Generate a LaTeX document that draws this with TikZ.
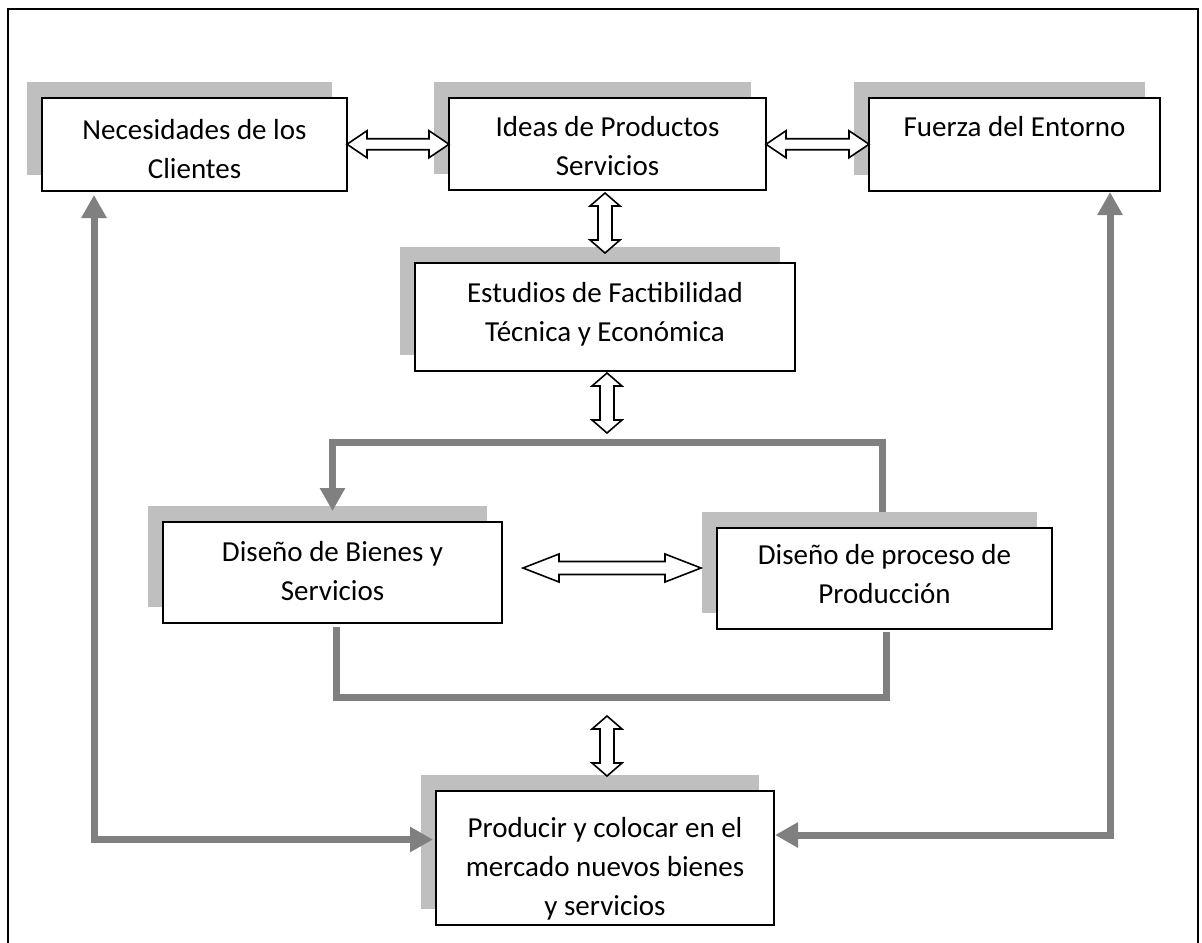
\documentclass[tikz,border=0pt]{standalone}
\usepackage{fontspec}
\setmainfont{Carlito}
\usetikzlibrary{positioning,calc,shadows,arrows.meta}
\definecolor{sombra}{RGB}{191,191,191}
\definecolor{flecha}{RGB}{128,128,128}

\begin{document}
\begin{tikzpicture}[x=.5pt, y=-.5pt,
    caja/.style={draw, fill=white, line width=.9pt, inner sep=0pt, outer sep=0pt,
      general shadow={fill=sombra, shadow xshift=-7.5pt, shadow yshift=8pt}},
    texto/.style={inner sep=0pt, align=center, font=\fontsize{14.5}{19.5}\selectfont},
    % flecha doble hueca: media longitud, medio cuerpo, media punta, largo de punta
    pics/doble/.style n args={4}{code={
      \draw[line width=.8pt, fill=white, line join=miter]
        (-#1,0) -- ++(#4,-#3) -- ++(0,{#3-#2}) -- ({#1-#4},-#2) -- ++(0,{#2-#3})
        -- (#1,0) -- ({#1-#4},#3) -- ++(0,{#2-#3}) -- ({-#1+#4},#2) -- ++(0,{#3-#2}) -- cycle;
    }},
    gris/.style={draw=flecha, line width=3.5pt, >={Triangle[length=11.5pt, width=12pt]}}]
            \useasboundingbox (0,0) rectangle (1202,942);

            % cajas
            \node[caja, minimum width=152.5pt, minimum height=46.5pt] (clientes) at (194.5,144.5) {};
            \node[caja, minimum width=158.5pt, minimum height=46pt] (ideas) at (607.5,144) {};
            \node[caja, minimum width=145.5pt, minimum height=46.5pt] (entorno) at (1014.5,144.5) {};
            \node[caja, minimum width=190pt, minimum height=54pt] (estudios) at (605,317) {};
            \node[caja, minimum width=169.5pt, minimum height=50.5pt] (bienes) at (332.5,572.5) {};
            \node[caja, minimum width=167.5pt, minimum height=50.5pt] (proceso) at (884.5,578.5) {};
            \node[caja, minimum width=169pt, minimum height=67pt] (producir) at (605,858) {};

            \node[texto, below=10.5pt of clientes.north] (tclientes) {Necesidades de los\\Clientes};
            \node[texto, below=9pt of ideas.north] (tideas) {Ideas de Productos\\Servicios};
            \node[texto, below=9pt of entorno.north] (tentorno) {Fuerza del Entorno};
            \node[texto, below=9.5pt of estudios.north] (testudios) {Estudios de Factibilidad\\T\'ecnica y Econ\'omica};
            \node[texto, below=9.5pt of bienes.north] (tbienes) {Dise\~no de Bienes y\\Servicios};
            \node[texto, below=8pt of proceso.north] (tproceso) {Dise\~no de proceso de\\Producci\'on};
            \node[texto, below=13pt of producir.north] (tproducir) {Producir y colocar en el\\mercado nuevos bienes\\y servicios};

            % flechas dobles
            \pic at ($(clientes.east)!.5!(ideas.west)$) {doble={51}{5.5}{13.5}{20}};
            \pic at ($(ideas.east)!.5!(entorno.west)$) {doble={51.5}{5.5}{13.5}{20}};
            \pic[rotate=90] at (605,223) {doble={30}{7}{15}{13}};
            \pic[rotate=90] at (607,403) {doble={30}{7}{15}{13}};
            \pic[rotate=90] at (607,746) {doble={30}{7}{15}{13}};
            \pic at (612,568) {doble={89}{6.5}{14}{36}};

            % lineas grises
            \draw[gris, ->] ([shift={(-2.5,-16)}]proceso.north) -- ++(0,-70) -| ([yshift=5.5pt]bienes.north);
            \draw[gris] ([shift={(3.5,4)}]bienes.south) |- ([shift={(1.5,68)}]proceso.south)
                -- ([shift={(1.5,3)}]proceso.south);
            \draw[gris, <->] ([shift={(-100.5,4)}]clientes.south) |- ([shift={(-3,-18.5)}]producir.west);
            \draw[gris, <->] ([shift={(95.5,1)}]entorno.south) |- ([shift={(1,-23)}]producir.east);

            % marco
            \draw[line width=.9pt] (8,960) -- (8,9) -- (1198,9) -- (1198,960);
\end{tikzpicture}
\end{document}
